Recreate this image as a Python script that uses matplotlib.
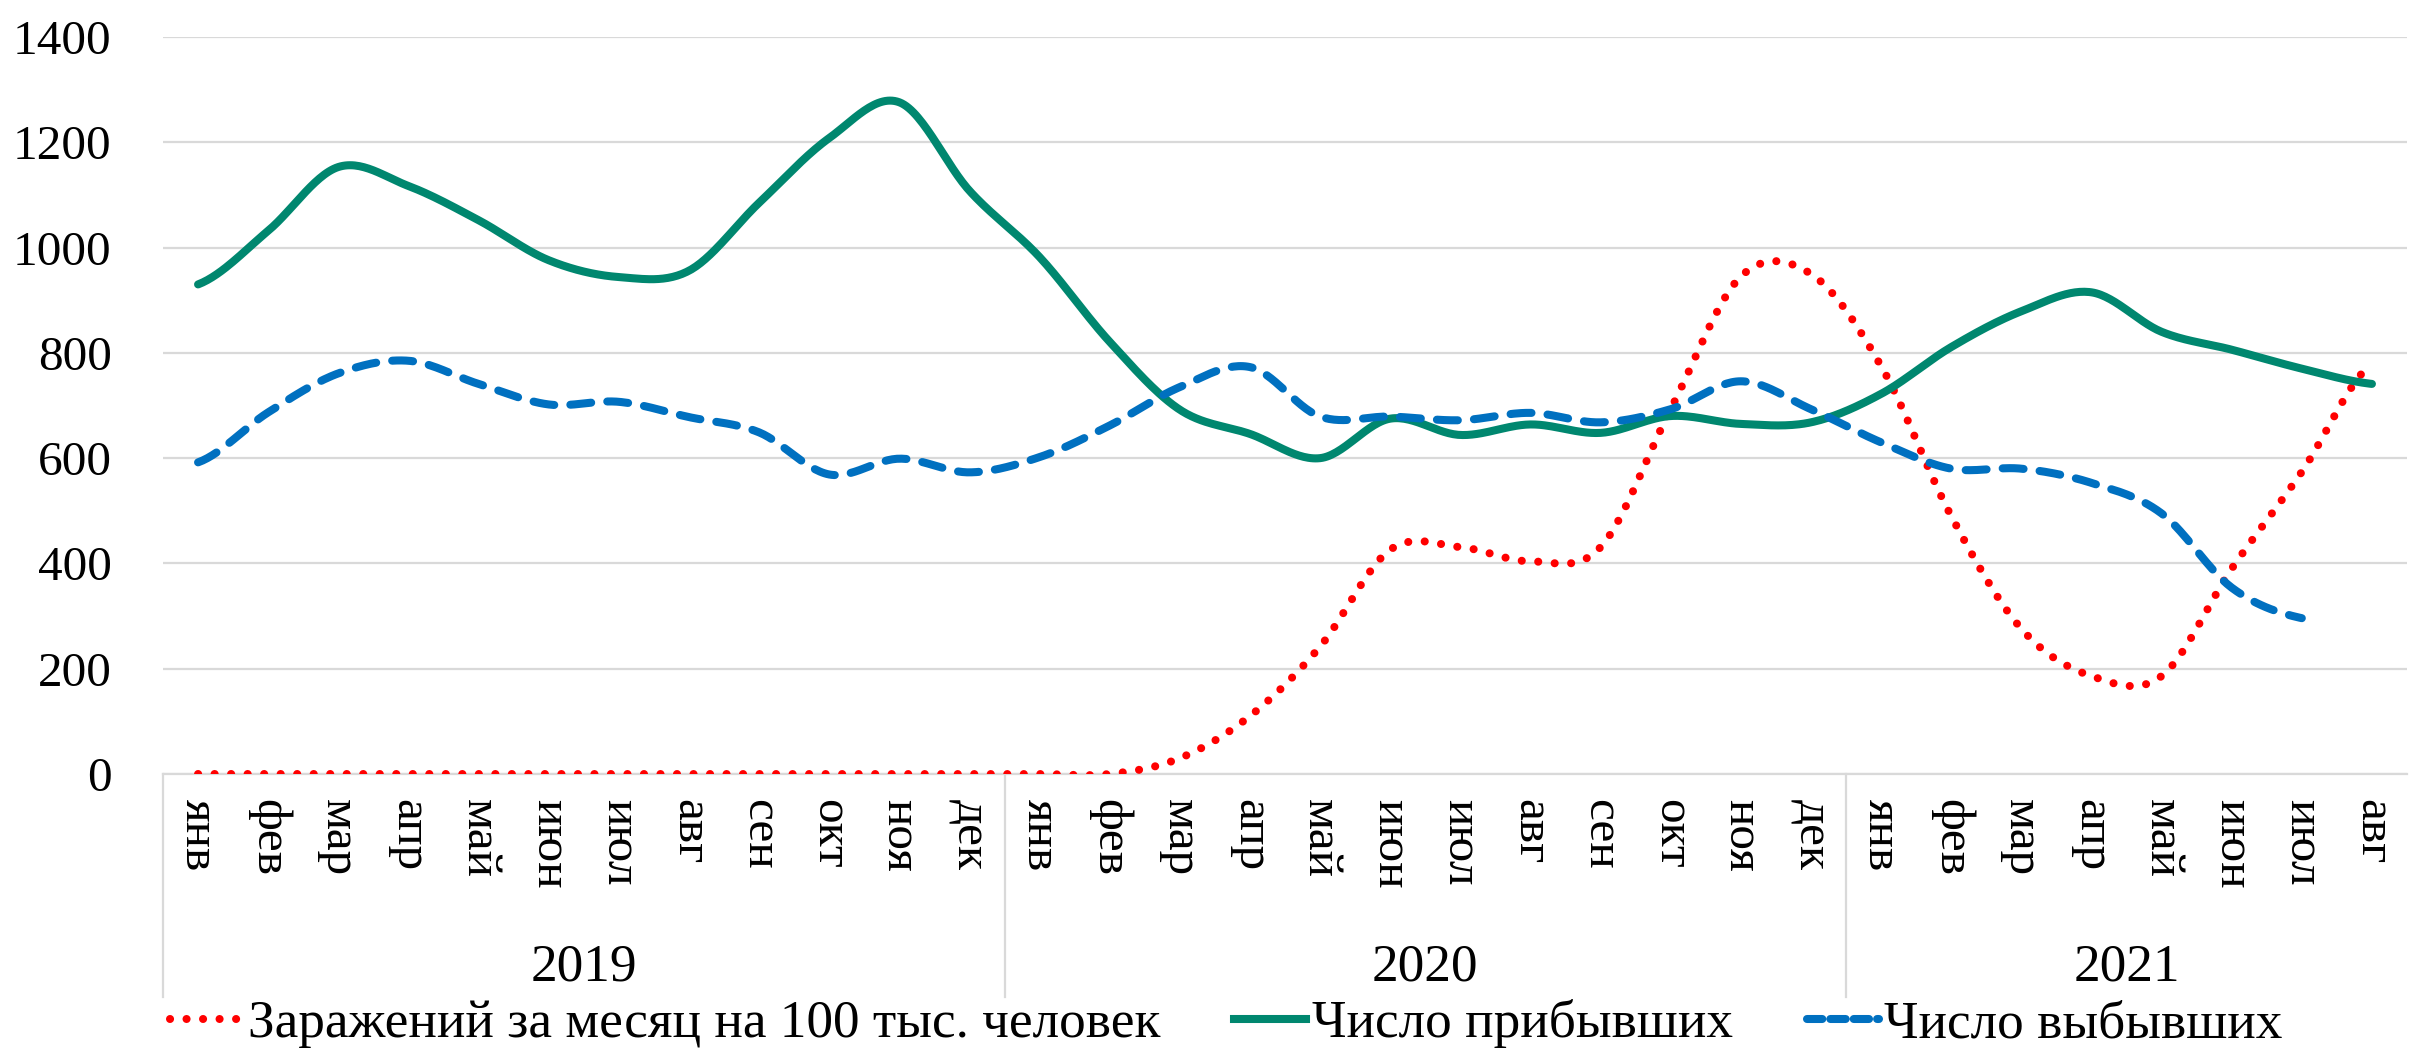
import numpy as np
import matplotlib
matplotlib.use("Agg")
import matplotlib.pyplot as plt
from matplotlib.lines import Line2D

plt.rcParams['font.family'] = ['Liberation Serif', 'DejaVu Serif']

months = ["янв", "фев", "мар", "апр", "май", "июн", "июл", "авг", "сен", "окт", "ноя", "дек",
          "янв", "фев", "мар", "апр", "май", "июн", "июл", "авг", "сен", "окт", "ноя", "дек",
          "янв", "фев", "мар", "апр", "май", "июн", "июл", "авг"]
years = ["2019", "2020", "2021"]
year_sizes = [12, 12, 8]

infections = [0, 0, 0, 0, 0, 0, 0, 0, 0, 0, 0, 0,
              0, 0, 30, 110, 242, 426, 431, 404, 431, 693, 945, 950,
              775, 490, 276, 186, 186, 390, 574, 780]
arrived = [930, 1032, 1153, 1117, 1052, 976, 944, 956, 1085, 1208, 1276, 1108,
           982, 821, 692, 646, 600, 675, 644, 664, 648, 680, 665, 668,
           722, 811, 879, 915, 840, 806, 770, 741]
departed = [592, 687, 761, 785, 741, 702, 707, 678, 649, 569, 599, 573,
            602, 662, 735, 773, 679, 679, 672, 686, 668, 693, 746, 693,
            630, 580, 580, 553, 495, 354, 296]

series_names = ["Заражений за месяц на 100 тыс. человек", "Число прибывших", "Число выбывших"]
colors = ["#FF0000", "#00876F", "#0070C0"]


def smooth(y, n=30):
    y = np.asarray(y, dtype=float)
    m = len(y)
    xs, ys = [], []
    for i in range(m - 1):
        p0 = y[i - 1] if i > 0 else y[i]
        p1 = y[i]
        p2 = y[i + 1]
        p3 = y[i + 2] if i + 2 < m else y[i + 1]
        c1 = p1 + (p2 - p0) / 6.0
        c2 = p2 - (p3 - p1) / 6.0
        t = np.linspace(0, 1, n, endpoint=(i == m - 2))
        b = (1 - t) ** 3 * p1 + 3 * (1 - t) ** 2 * t * c1 + 3 * (1 - t) * t ** 2 * c2 + t ** 3 * p2
        xs.append(i + t)
        ys.append(b)
    return np.concatenate(xs), np.concatenate(ys)


fig = plt.figure(figsize=(24.12, 10.55), dpi=100)
ax = fig.add_axes([163 / 2412, 1 - 774 / 1055, (2407 - 163) / 2412, (774 - 37) / 1055])

FS = 35.5
FS_BIG = 38.3
lw = 5.8
dot_style = (0, (0.01, 2.04))
dash_style = (0, (2.6, 2.0))

x, y = smooth(infections)
ax.plot(x, y, color=colors[0], lw=lw, linestyle=dot_style, dash_capstyle='round', zorder=3)
x, y = smooth(arrived)
ax.plot(x, y, color=colors[1], lw=lw, solid_capstyle='round', zorder=3)
x, y = smooth(departed)
ax.plot(x, y, color=colors[2], lw=lw, linestyle=dash_style, dash_capstyle='round', zorder=3)

ax.set_xlim(-0.5, len(months) - 0.5)
ax.set_ylim(0, 1400)
ax.set_yticks(np.arange(0, 1401, 200))
ax.tick_params(axis='y', length=0, pad=37, labelsize=FS)
ax.grid(axis='y', color='#D9D9D9', lw=1.6)
ax.set_axisbelow(True)
for s in ['top', 'right', 'left']:
    ax.spines[s].set_visible(False)
ax.spines['bottom'].set_color('#D9D9D9')
ax.spines['bottom'].set_linewidth(1.6)

ax.set_xticks(np.arange(len(months)))
ax.set_xticklabels(months, rotation=270, fontsize=FS, va='top', ha='center')
ax.tick_params(axis='x', length=0, pad=18)

trans = ax.get_xaxis_transform()
start = 0
bounds = [-0.5]
for yr, sz in zip(years, year_sizes):
    center = start + (sz - 1) / 2
    ax.text(center, -0.263, yr, transform=trans, ha='center', va='center', fontsize=FS_BIG)
    start += sz
    bounds.append(start - 0.5)
for b in bounds[:-1]:
    ax.plot([b, b], [0, -0.3026], transform=trans, color='#D9D9D9', lw=1.6, clip_on=False)

handles = [
    Line2D([], [], color=colors[0], lw=lw, linestyle=dot_style, dash_capstyle='round'),
    Line2D([], [], color=colors[1], lw=lw),
    Line2D([], [], color=colors[2], lw=lw, linestyle=(0, (1.9, 1.0)), dash_capstyle='round'),
]
fig.legend(handles, series_names, loc='center', bbox_to_anchor=(0.5085, 1 - 1024 / 1055), ncol=3,
           frameon=False, fontsize=FS_BIG, handlelength=1.35, handletextpad=0.1, columnspacing=1.4,
           borderpad=0, borderaxespad=0)

fig.savefig("out.png", dpi=100)
